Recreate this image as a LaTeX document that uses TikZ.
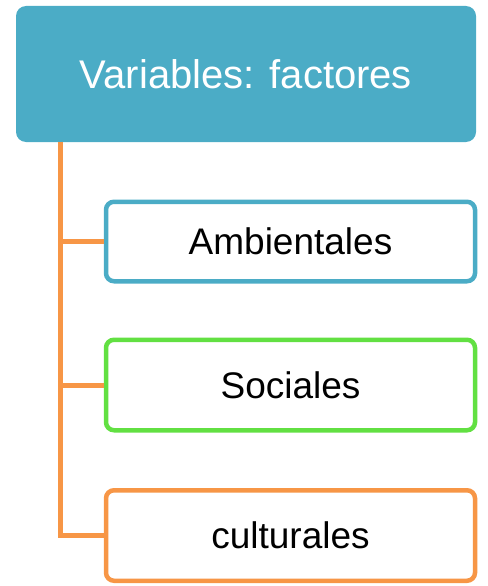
\documentclass[tikz,border=0pt]{standalone}
\usepackage{fontspec}
\setmainfont{Liberation Sans}
\usepackage{xcolor}
\definecolor{vblue}{HTML}{4BACC6}
\definecolor{vgreen}{HTML}{62E042}
\definecolor{vorange}{HTML}{F79646}
\begin{document}
\begin{tikzpicture}[x=1pt,y=-1pt]
	%\draw[help lines] (0,0) grid (487,586);
	
	\tikzstyle{hnode} = [rectangle,rounded corners=10pt,fill=vblue,text=white,minimum width=460pt,minimum height=136pt,font=\fontsize{40}{48}\selectfont]
	\tikzstyle{cnode} = [rectangle,rounded corners=8pt,draw,fill=white,line width=4.5pt,minimum width=369pt,font=\fontsize{37}{44}\selectfont]
	\tikzstyle{tedge} = [draw=vorange,line width=5pt]
	
\useasboundingbox (0,0) rectangle (487,586);

\node[hnode] (var) at (246,74) {Variables: factores};

\node[cnode,draw=vblue,minimum height=79.5pt] (amb) at (290.5,241.5) {Ambientales};
\node[cnode,draw=vgreen,minimum height=90.5pt] (soc) at (290.5,385) {Sociales};
\node[cnode,draw=vorange,minimum height=90.5pt] (cul) at (290.5,535.5) {culturales};

\coordinate (t0) at (60,142);

\draw[tedge] (var.south -| t0) -- (cul.west -| t0) -- (cul.west);
\draw[tedge] (amb.west -| t0) -- (amb.west);
\draw[tedge] (soc.west -| t0) -- (soc.west);
\end{tikzpicture}
\end{document}
